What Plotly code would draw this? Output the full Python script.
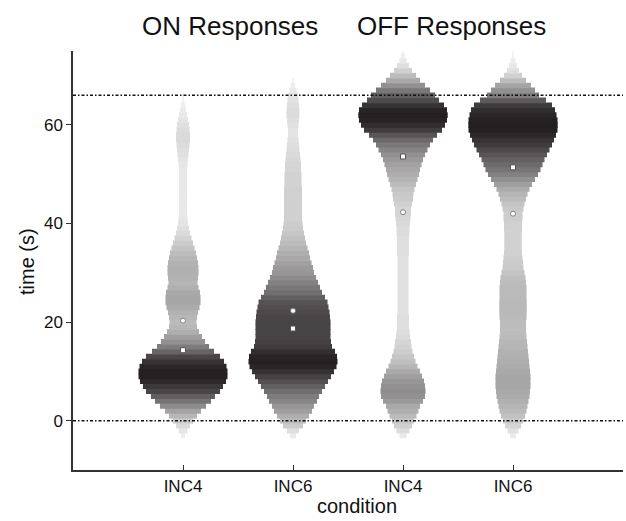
import plotly.graph_objects as go

# ---------------- data ----------------
CATEGORY_LABELS = ["INC4", "INC6", "INC4", "INC6"]
CATEGORY_POS = [1, 2, 3, 4]
GROUP_TITLES = ["ON Responses", "OFF Responses"]

# time bins (s), one strip per second
TIME_BINS = list(range(-4, 76))

# relative response density per time bin (arbitrary units)
ON_INC4 = [0, 2, 4.5, 7, 10, 14, 18, 23, 28, 32, 37, 40, 43, 44.5, 44.5, 43.5, 41, 37, 31, 26,
           22, 19, 16, 14, 13.5, 14, 15, 16.5, 17.5, 17.5, 17, 15.5, 14.5, 15, 15.5, 15.5, 15, 14, 13, 11.5,
           10, 8.5, 7, 6, 5, 4.5, 4, 4, 4, 4, 4, 4, 4, 4, 4, 4, 4.5, 5, 5.5, 6,
           6.5, 7, 7, 6.5, 6, 5, 4, 3, 2, 1, 0.5, 0, 0, 0, 0, 0, 0, 0, 0, 0]
ON_INC6 = [0, 3, 6, 10, 13, 16, 19, 21, 24, 26, 29, 32, 35, 38, 41, 43.5, 44.5, 44, 42, 39,
           38, 37.5, 37.5, 37.5, 37.5, 37, 36.5, 35.5, 34.5, 32, 29, 27, 25, 23, 21, 20, 18.5, 17, 16, 14.5,
           13, 12, 11, 10, 9.5, 9, 9, 9, 9, 9, 9, 9, 8.5, 8.5, 8.5, 8, 8, 7.5, 7, 6.5,
           6, 5.5, 5, 5, 5.5, 6, 6.5, 6.5, 6, 5.5, 5, 3.5, 2, 1, 0, 0, 0, 0, 0, 0]
OFF_INC4 = [0, 3.5, 6.5, 9, 11, 13.5, 15.5, 17, 20, 22, 22.5, 22, 21, 19, 17, 14.5, 12.5, 11, 9.5, 8.5,
            8, 7, 6.5, 6, 6, 6, 5.5, 5.5, 5.5, 5.5, 5.5, 5.5, 5.5, 5.5, 5.5, 5.5, 5.5, 5.5, 6, 6,
            6, 6, 6.5, 6.5, 7, 7.5, 8, 8, 9, 10, 10.5, 11.5, 13, 14.5, 16, 17, 18.5, 20, 22, 24.5,
            27, 30, 34, 39, 42, 44, 44.7, 44, 41, 36, 32, 27, 22, 17, 13, 9, 6, 3.5, 2, 0.5]
OFF_INC6 = [0, 3, 5.5, 8, 10, 12, 13.5, 14.5, 15.5, 16.5, 17, 17.5, 17.5, 17.5, 17, 16.5, 16, 15.5, 15, 14.5,
            14, 13.5, 13, 13, 13, 13.5, 13.7, 13.7, 13.7, 13.5, 13.5, 13.5, 13, 12.5, 11.5, 10.5, 10, 9.5, 9, 8.7,
            8.7, 8.7, 8.7, 9, 9, 9.5, 9.5, 10.5, 11.5, 13, 14.5, 16.5, 19, 22, 25, 27.5, 29.5, 31.5, 34, 36.5,
            39, 41, 43, 44.5, 44.7, 44.5, 43.5, 42, 39, 33, 26, 22, 18, 13, 9, 6, 4, 2.5, 1, 0.5]
DENSITIES = [ON_INC4, ON_INC6, OFF_INC4, OFF_INC6]

# summary markers (s)
MEANS = [14.3, 18.7, 53.6, 51.4]     # squares
MEDIANS = [20.3, 22.3, 42.3, 42.0]   # circles

REF_LINES = [0, 66]

# ---------------- style ----------------
FONT = "Liberation Sans, Arial, Helvetica, sans-serif"
WIDTH_PER_UNIT = 1.0 / 110.0   # axis units per density unit
DMAX = 45
GRAYS = [[0, "#f5f5f5"], [0.1, "#e6e6e6"], [1, "#231f20"]]

fig = go.Figure()
for pos, dens in zip(CATEGORY_POS, DENSITIES):
    half = [d * WIDTH_PER_UNIT for d in dens]
    fig.add_trace(go.Bar(
        orientation="h",
        y=TIME_BINS,
        x=[2 * h for h in half],
        base=[pos - h for h in half],
        width=1.15,
        marker=dict(color=dens, colorscale=GRAYS, cmin=0, cmax=DMAX,
                    showscale=False, line=dict(width=0)),
        hoverinfo="skip",
    ))

fig.add_trace(go.Scatter(
    x=CATEGORY_POS, y=MEANS, mode="markers",
    marker=dict(symbol="square", size=5, color="white", line=dict(width=1, color="#555555")),
    hoverinfo="skip"))
fig.add_trace(go.Scatter(
    x=CATEGORY_POS, y=MEDIANS, mode="markers",
    marker=dict(symbol="circle", size=5, color="white", line=dict(width=1, color="#808080")),
    hoverinfo="skip"))

shapes = []
for yv in REF_LINES:
    shapes.append(dict(type="line", xref="x", yref="y", x0=0, x1=5, y0=yv, y1=yv,
                       line=dict(color="#111111", width=1.5, dash="3px,2px,1.5px,2px"),
                       layer="above"))

annotations = [
    dict(text=GROUP_TITLES[0], xref="x", yref="paper", x=1.43, y=1 + 25 / 419.0,
         xanchor="center", yanchor="middle", showarrow=False,
         font=dict(family=FONT, size=26, color="#111111")),
    dict(text=GROUP_TITLES[1], xref="x", yref="paper", x=3.44, y=1 + 25 / 419.0,
         xanchor="center", yanchor="middle", showarrow=False,
         font=dict(family=FONT, size=26, color="#111111")),
    dict(text="condition", xref="paper", yref="paper", x=(357 - 73) / 550.0, y=-(506 - 470) / 419.0,
         xanchor="center", yanchor="middle", showarrow=False,
         font=dict(family=FONT, size=20, color="#111111")),
    dict(text="time (s)", xref="paper", yref="paper", x=-(73 - 27) / 550.0, y=0.5 - 1.5 / 419.0,
         xanchor="center", yanchor="middle", showarrow=False, textangle=-90,
         font=dict(family=FONT, size=20, color="#111111")),
]

fig.update_layout(
    width=626, height=521,
    margin=dict(l=73, r=3, t=51, b=51),
    paper_bgcolor="white", plot_bgcolor="white",
    barmode="overlay", showlegend=False,
    shapes=shapes, annotations=annotations,
    xaxis=dict(range=[0, 5], tickvals=CATEGORY_POS, ticktext=CATEGORY_LABELS,
               ticks="inside", ticklen=5, tickwidth=1, tickcolor="#333333",
               showline=True, linecolor="#333333", linewidth=1.5,
               showgrid=False, zeroline=False,
               tickfont=dict(family=FONT, size=17, color="#111111")),
    yaxis=dict(range=[-10, 75], tickvals=[0, 20, 40, 60],
               ticks="outside", ticklen=5, tickwidth=1, tickcolor="#333333",
               showline=True, linecolor="#333333", linewidth=1.5,
               showgrid=False, zeroline=False,
               tickfont=dict(family=FONT, size=17, color="#111111")),
)

fig.write_html("out.html",
               config={"displayModeBar": False},
               post_script="document.body.style.margin='0';document.body.style.overflow='hidden';")
